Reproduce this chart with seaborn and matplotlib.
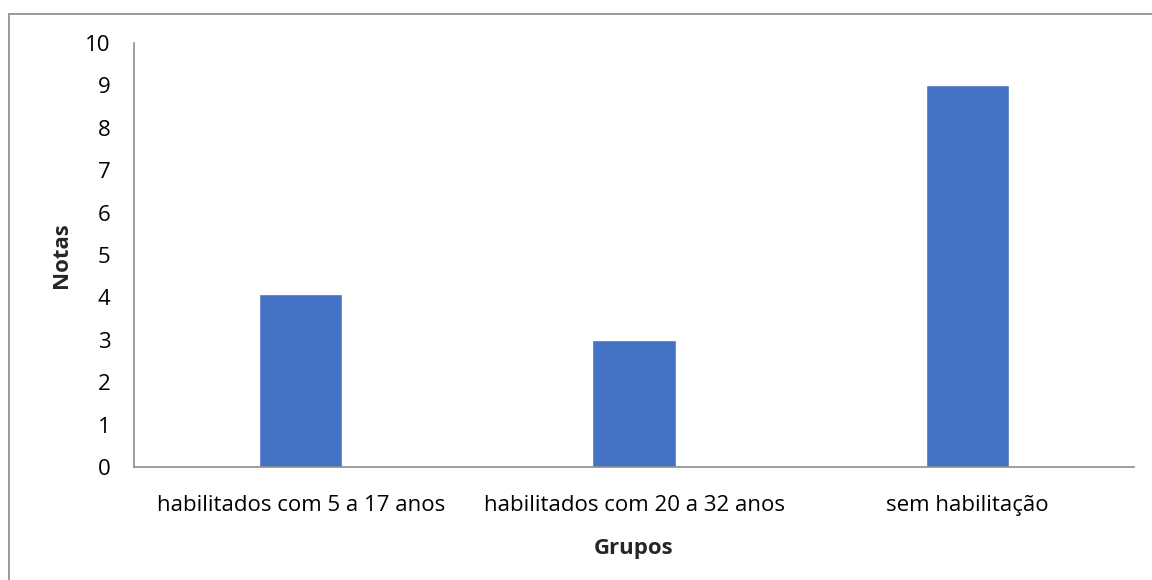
import matplotlib
matplotlib.use("Agg")
import matplotlib.pyplot as plt
import seaborn as sns
import pandas as pd
from matplotlib.patches import Rectangle

grupos = ["habilitados com 5 a 17 anos", "habilitados com 20 a 32 anos", "sem habilitação"]
notas = [4.07, 3.0, 9.0]
yticks = list(range(0, 11))

df = pd.DataFrame({"Grupos": grupos, "Notas": notas})

sns.set_theme(style="white")
plt.rcParams["font.family"] = ["Open Sans", "DejaVu Sans"]

fig = plt.figure(figsize=(11.52, 5.8), dpi=100)
ax = fig.add_axes([134 / 1152, 1 - 467 / 580, 1000 / 1152, 424 / 580])

sns.barplot(data=df, x="Grupos", y="Notas", color="#4472C4", width=0.25,
            saturation=1, ax=ax)

ax.set_ylim(0, 10)
ax.set_xlim(-0.5, 2.5)
ax.set_yticks(yticks)
ax.set_yticklabels([str(t) for t in yticks], fontsize=16, color="#000000")
ax.tick_params(axis="y", length=6, width=1.2, color="#8c8c8c", direction="out", pad=11)
ax.tick_params(axis="x", length=0, labelsize=16, labelcolor="#000000", pad=20)

for side in ["top", "right"]:
    ax.spines[side].set_visible(False)
for side in ["left", "bottom"]:
    ax.spines[side].set_color("#8c8c8c")
    ax.spines[side].set_linewidth(1.2)

ax.set_xlabel("Grupos", fontsize=16, fontweight="bold", labelpad=16)
ax.set_ylabel("Notas", fontsize=16, fontweight="bold", labelpad=9)

# outer chart frame
fig.patches.append(Rectangle((8.5 / 1152, -0.1), 1.2, 0.1 + 1 - 14 / 580,
                             transform=fig.transFigure, fill=False,
                             edgecolor="#9a9a9a", linewidth=1.4, zorder=0))

fig.savefig("out.png", dpi=100)
